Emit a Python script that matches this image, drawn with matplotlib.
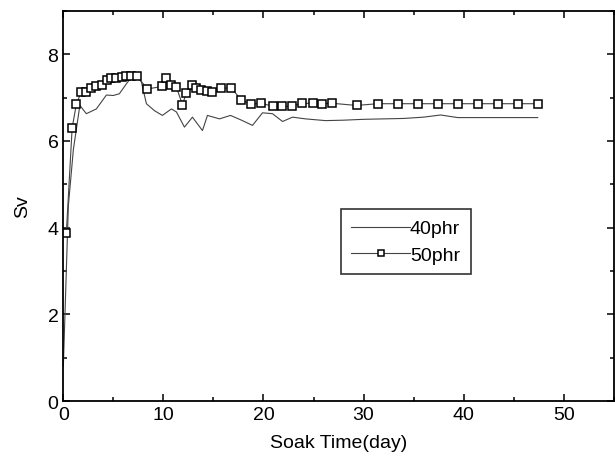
import matplotlib
matplotlib.use('Agg')
import matplotlib.pyplot as plt
from matplotlib.ticker import MultipleLocator

plt.rcParams['font.family'] = ['Liberation Sans', 'DejaVu Sans']

# 40phr: plain line
t40 = [0, 0.5, 1.0, 1.65, 2.3, 3.3, 4.3, 5.0, 5.6, 6.3, 6.8, 7.3, 7.8, 8.3, 9.1, 9.9,
       10.8, 11.3, 12.1, 12.9, 13.9, 14.4, 15.6, 16.7, 17.8, 18.9, 19.9, 20.9, 21.9,
       22.9, 24.2, 26.2, 28.0, 30.0, 32.0, 34.0, 36.0, 37.7, 39.4, 41.5, 43.5, 45.5, 47.4]
sv40 = [0.8, 4.5, 5.8, 6.82, 6.63, 6.74, 7.06, 7.05, 7.09, 7.32, 7.47, 7.55, 7.36, 6.86,
        6.70, 6.59, 6.74, 6.67, 6.32, 6.55, 6.24, 6.59, 6.51, 6.59, 6.48, 6.36, 6.65, 6.63,
        6.45, 6.55, 6.51, 6.47, 6.48, 6.50, 6.51, 6.52, 6.55, 6.60, 6.54, 6.54, 6.54, 6.54, 6.54]

# 50phr: line with open squares
t50 = [0.3, 0.88, 1.3, 1.8, 2.3, 2.8, 3.3, 3.86, 4.36, 4.8, 5.3, 5.85, 6.3, 6.8, 7.35,
       8.4, 9.9, 10.3, 10.8, 11.3, 11.9, 12.3, 12.85, 13.3, 13.8, 14.35, 14.9, 15.8, 16.8,
       17.8, 18.8, 19.8, 20.9, 21.8, 22.8, 23.8, 24.9, 25.85, 26.85, 29.3, 31.4, 33.4,
       35.4, 37.4, 39.4, 41.4, 43.4, 45.4, 47.4]
sv50 = [3.88, 6.3, 6.85, 7.14, 7.13, 7.22, 7.27, 7.3, 7.4, 7.45, 7.46, 7.48, 7.5, 7.51, 7.5,
        7.2, 7.26, 7.46, 7.3, 7.24, 6.84, 7.11, 7.29, 7.22, 7.17, 7.15, 7.13, 7.22, 7.22,
        6.94, 6.85, 6.87, 6.8, 6.8, 6.8, 6.87, 6.87, 6.86, 6.87, 6.82, 6.86, 6.86,
        6.86, 6.86, 6.86, 6.86, 6.86, 6.86, 6.86]

fig = plt.figure(figsize=(6.15, 4.6), dpi=100)
ax = fig.add_axes([0.103, 0.126, 0.895, 0.848])

ax.plot(t40, sv40, color='#444444', lw=0.8, label='40phr')
ax.plot(t50, sv50, color='#444444', lw=0.8, marker='s', ms=5.6, mfc='white',
        mec='black', mew=1.1, label='50phr')

ax.set_xlim(0, 55)
ax.set_ylim(0, 9)
ax.xaxis.set_major_locator(MultipleLocator(10))
ax.xaxis.set_minor_locator(MultipleLocator(5))
ax.yaxis.set_major_locator(MultipleLocator(2))
ax.yaxis.set_minor_locator(MultipleLocator(1))
ax.tick_params(which='both', direction='in', top=True, right=True, labelsize=14, width=1.1)
ax.tick_params(which='major', length=5)
ax.tick_params(which='minor', length=3)
for s in ax.spines.values():
    s.set_linewidth(1.3)

ax.set_xlabel('Soak Time(day)', fontsize=14, labelpad=8)
ax.set_ylabel('Sv', fontsize=14, labelpad=12)

leg = ax.legend(loc='upper left', bbox_to_anchor=(0.504, 0.492), borderaxespad=0,
                fontsize=14, frameon=True, fancybox=False, handlelength=3.0,
                handletextpad=0.0, labelspacing=0.45, borderpad=0.55, markerscale=0.7)
leg.get_frame().set_edgecolor('black')
leg.get_frame().set_linewidth(1.2)

fig.savefig('out.png', dpi=100)
